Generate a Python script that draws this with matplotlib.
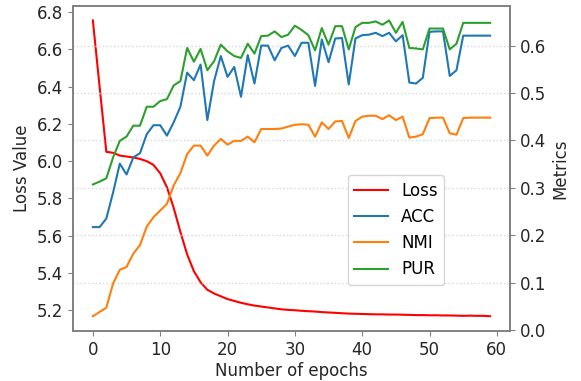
import matplotlib
matplotlib.use("Agg")
import matplotlib.pyplot as plt
import numpy as np

epochs = list(range(60))
loss = [6.755, 6.40, 6.05, 6.045, 6.03, 6.025, 6.02, 6.012, 6.000, 5.98,
        5.935, 5.86, 5.75, 5.62, 5.50, 5.41, 5.35, 5.31, 5.29, 5.275,
        5.26, 5.25, 5.24, 5.232, 5.225, 5.22, 5.215, 5.21, 5.205, 5.202,
        5.20, 5.197, 5.195, 5.193, 5.19, 5.188, 5.186, 5.184, 5.182, 5.181,
        5.18, 5.179, 5.178, 5.178, 5.177, 5.177, 5.176, 5.175, 5.174, 5.174,
        5.173, 5.173, 5.172, 5.172, 5.171, 5.17, 5.171, 5.17, 5.17, 5.168]
acc = [0.217, 0.217, 0.235, 0.29, 0.351, 0.328, 0.364, 0.373, 0.413, 0.432,
       0.432, 0.410, 0.438, 0.471, 0.543, 0.527, 0.560, 0.443, 0.525, 0.578,
       0.534, 0.555, 0.492, 0.580, 0.520, 0.600, 0.600, 0.569, 0.595, 0.600,
       0.578, 0.606, 0.606, 0.515, 0.613, 0.565, 0.615, 0.616, 0.518, 0.615,
       0.622, 0.623, 0.627, 0.620, 0.627, 0.609, 0.622, 0.522, 0.520, 0.532,
       0.629, 0.630, 0.630, 0.536, 0.548, 0.621, 0.621, 0.621, 0.621, 0.621]
nmi = [0.029, 0.038, 0.047, 0.098, 0.127, 0.133, 0.161, 0.179, 0.218, 0.238,
       0.252, 0.266, 0.305, 0.331, 0.371, 0.389, 0.389, 0.368, 0.389, 0.403,
       0.391, 0.399, 0.399, 0.408, 0.396, 0.424, 0.424, 0.424, 0.425, 0.429,
       0.433, 0.434, 0.433, 0.408, 0.438, 0.424, 0.440, 0.441, 0.405, 0.441,
       0.450, 0.452, 0.452, 0.445, 0.453, 0.443, 0.450, 0.406, 0.408, 0.413,
       0.447, 0.448, 0.448, 0.415, 0.412, 0.447, 0.448, 0.448, 0.448, 0.448]
pur = [0.307, 0.313, 0.320, 0.364, 0.399, 0.408, 0.431, 0.431, 0.471, 0.471,
       0.483, 0.487, 0.516, 0.525, 0.595, 0.566, 0.593, 0.548, 0.567, 0.602,
       0.588, 0.578, 0.574, 0.604, 0.583, 0.620, 0.621, 0.630, 0.618, 0.623,
       0.642, 0.633, 0.622, 0.590, 0.637, 0.602, 0.641, 0.641, 0.592, 0.639,
       0.648, 0.648, 0.651, 0.644, 0.653, 0.627, 0.650, 0.595, 0.594, 0.592,
       0.636, 0.636, 0.636, 0.592, 0.604, 0.648, 0.648, 0.648, 0.648, 0.648]

plt.rcParams['font.family'] = ['DejaVu Sans']
plt.rcParams['font.size'] = 12

fig = plt.figure(figsize=(5.81, 3.81), dpi=100)
ax = fig.add_axes([73/581, 1-331/381, (510-73)/581, (331-5.7)/381])
ax2 = ax.twinx()

spine_col = '#808080'
tick_col = '#262626'

l1, = ax.plot(epochs, loss, color='red', lw=1.5, label='Loss')
l2, = ax2.plot(epochs, acc, color='#1f77b4', lw=1.5, label='ACC')
l3, = ax2.plot(epochs, nmi, color='#ff7f0e', lw=1.5, label='NMI')
l4, = ax2.plot(epochs, pur, color='#2ca02c', lw=1.5, label='PUR')

ax.set_xticks(range(0, 61, 10))
ax.set_yticks(np.arange(5.2, 6.81, 0.2))
ax2.set_yticks(np.arange(0.0, 0.61, 0.1))
ax.set_xlabel('Number of epochs', color=tick_col, labelpad=2)
ax.set_ylabel('Loss Value', color=tick_col)
ax2.set_ylabel('Metrics', color=tick_col)

ax2.grid(axis='y', linestyle=':', color='#d8d8d8', lw=1.0)
ax2.set_axisbelow(True)

for a in (ax, ax2):
    for s in a.spines.values():
        s.set_color(spine_col)
        s.set_linewidth(1.2)
    a.tick_params(colors=tick_col, labelcolor=tick_col)
    a.tick_params(color=spine_col)

leg = ax2.legend(handles=[l1, l2, l3, l4], loc='center',
                 bbox_to_anchor=((396-73)/437, (331-230)/325.3),
                 framealpha=0.8)

fig.savefig('out.png', dpi=100)
